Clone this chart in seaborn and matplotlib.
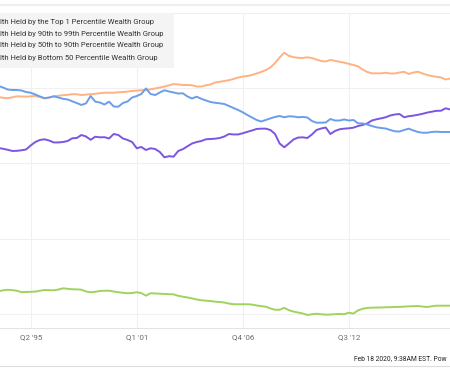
import numpy as np
import pandas as pd
import matplotlib
matplotlib.use("Agg")
import matplotlib.pyplot as plt
import seaborn as sns
from matplotlib.patches import Rectangle
from matplotlib.lines import Line2D

# ---------------- data ----------------
quarters = pd.period_range("1993Q3", "2018Q1", freq="Q")

# series names as far as they are visible in the (cropped) reference
series_names = [
    "lth Held by the Top 1 Percentile Wealth Group",
    "lth Held by 90th to 99th Percentile Wealth Group",
    "lth Held by 50th to 90th Percentile Wealth Group",
    "lth Held by Bottom 50 Percentile Wealth Group",
]

top1 = [22.06, 21.95, 21.82, 21.66, 21.68, 21.75, 21.86, 22.39, 22.85, 23.12,
        23.21, 23.05, 22.79, 22.79, 22.85, 22.98, 23.34, 23.38, 23.78, 23.58,
        23.14, 23.55, 23.47, 23.49, 23.32, 23.91, 23.78, 23.32, 23.12, 22.85,
        22.02, 22.19, 21.79, 22.02, 21.92, 21.53, 20.82, 20.97, 20.90, 21.66,
        21.90, 22.28, 22.65, 22.85, 22.98, 23.21, 23.25, 23.29, 23.38, 23.58,
        23.91, 23.85, 23.85, 24.01, 24.20, 24.38, 24.58, 24.62, 24.62, 24.44,
        23.91, 22.65, 22.15, 22.65, 23.18, 23.44, 23.47, 23.38, 23.85, 24.44,
        24.64, 24.77, 23.91, 24.31, 24.54, 24.62, 24.67, 24.75, 24.97, 25.11,
        25.31, 25.70, 25.86, 25.99, 26.13, 26.37, 26.50, 26.56, 26.13, 26.27,
        26.35, 26.46, 26.59, 26.75, 26.87, 26.98, 27.00, 27.32, 27.16]

p90_99 = [28.82, 28.71, 28.65, 28.78, 28.91, 28.89, 28.86, 28.91, 28.95, 28.82,
          28.65, 28.75, 28.91, 28.98, 29.06, 29.11, 29.19, 29.18, 29.08, 29.14,
          29.19, 29.24, 29.32, 29.39, 29.39, 29.39, 29.44, 29.48, 29.54, 29.62,
          29.67, 29.71, 29.77, 29.84, 29.95, 30.07, 30.21, 30.37, 30.54, 30.48,
          30.41, 30.41, 30.38, 30.21, 30.21, 30.37, 30.48, 30.74, 30.84, 30.94,
          31.05, 31.21, 31.41, 31.53, 31.60, 31.74, 31.94, 32.14, 32.40, 32.73,
          33.33, 34.06, 34.69, 34.28, 34.10, 34.02, 33.99, 34.08, 33.99, 33.79,
          33.59, 33.53, 33.73, 33.62, 33.49, 33.37, 33.22, 33.06, 32.89, 32.47,
          32.14, 31.96, 31.96, 31.96, 32.03, 31.94, 31.94, 32.07, 32.16, 31.87,
          32.07, 32.17, 31.94, 31.74, 31.60, 31.50, 31.41, 31.14, 31.27]

p50_90 = [30.28, 30.08, 29.81, 29.75, 29.75, 29.68, 29.48, 29.38, 29.15, 28.89,
          28.65, 28.75, 28.91, 28.75, 28.58, 28.49, 28.25, 28.02, 27.76, 27.98,
          28.95, 28.20, 28.09, 27.82, 28.20, 27.56, 27.53, 28.02, 28.22, 28.75,
          28.95, 29.22, 29.95, 29.22, 29.08, 29.42, 29.71, 29.55, 29.42, 29.28,
          29.31, 28.89, 28.62, 28.86, 28.58, 28.36, 28.16, 28.05, 27.98, 27.89,
          27.63, 27.36, 27.10, 26.79, 26.43, 26.10, 25.77, 25.57, 25.77, 25.99,
          26.17, 26.30, 26.13, 26.26, 26.23, 26.13, 26.17, 26.10, 25.64, 25.41,
          25.41, 25.44, 25.90, 25.70, 25.70, 25.84, 25.70, 25.77, 25.33, 25.31,
          25.17, 24.97, 24.80, 24.71, 24.64, 24.44, 24.27, 24.24, 24.44, 24.62,
          24.38, 24.18, 24.08, 24.08, 24.18, 24.22, 24.18, 24.18, 24.18]

bottom50 = [3.05, 3.18, 3.25, 3.20, 3.12, 2.93, 2.96, 2.98, 3.01, 3.12,
            3.22, 3.20, 3.18, 3.28, 3.44, 3.38, 3.32, 3.30, 3.26, 3.02,
            2.92, 2.98, 3.09, 3.12, 3.13, 3.02, 2.92, 2.85, 2.79, 2.82,
            2.92, 2.81, 2.47, 2.79, 2.76, 2.73, 2.69, 2.67, 2.64, 2.45,
            2.33, 2.23, 2.11, 1.96, 1.86, 1.80, 1.76, 1.67, 1.62, 1.56,
            1.42, 1.33, 1.33, 1.33, 1.33, 1.29, 1.17, 1.07, 1.01, 0.77,
            0.60, 0.60, 0.86, 0.54, 0.36, 0.23, 0.11, -0.09, 0.00, 0.07,
            0.00, -0.05, -0.03, 0.01, 0.04, 0.00, 0.21, 0.09, 0.52, 0.73,
            0.84, 0.88, 0.89, 0.90, 0.93, 0.94, 0.97, 0.98, 1.02, 1.05,
            1.07, 1.10, 1.02, 0.97, 1.06, 1.14, 1.14, 1.14, 1.14]

tick_pos = [1995.25, 2001.0, 2006.75, 2012.5]
tick_labels = ["Q2 '95", "Q1 '01", "Q4 '06", "Q3 '12"]
footer = "Feb 18 2020, 9:38AM EST. Pow"

colors = ["#7c55e2", "#ffb283", "#6b9ee8", "#a0d35c"]

t = quarters.year + (quarters.quarter - 1) / 4.0
frames = []
for name, vals in zip(series_names, [top1, p90_99, p50_90, bottom50]):
    frames.append(pd.DataFrame({"t": t, "value": vals, "series": name}))
df = pd.concat(frames, ignore_index=True)

# ---------------- drawing ----------------
sns.set_style("white")
plt.rcParams["font.family"] = ["Roboto", "DejaVu Sans"]
narrow = ["Liberation Sans Narrow", "Roboto"]

W, H = 450, 376
fig = plt.figure(figsize=(4.5, 3.76), dpi=100)
ax = fig.add_axes([0, (H - 328) / H, 1, (328 - 12.7) / H])

sns.lineplot(data=df, x="t", y="value", hue="series", hue_order=series_names,
             palette=colors, linewidth=1.4, legend=False, ax=ax, zorder=3)

ax.set_xlim(1993.585, 2017.988)
ax.set_ylim(-1.82, 40)
ax.set_yticks([0, 10, 20, 30, 40])
ax.set_yticklabels([])
ax.set_xticks(tick_pos)
ax.set_xticklabels(tick_labels, color="#6b6b6b", fontsize=5.8)
ax.tick_params(axis="both", length=0, pad=4.5)
ax.set_xlabel("")
ax.set_ylabel("")
ax.grid(True, color="#f0f0f0", linewidth=0.8)
for side in ["top", "left", "right"]:
    ax.spines[side].set_visible(False)
ax.spines["bottom"].set_color("#e4e4e4")
ax.spines["bottom"].set_linewidth(0.8)

renderer = fig.canvas.get_renderer()

# legend box (cropped at the left edge)
fig.add_artist(Rectangle((0, (H - 68) / H), 174 / W, (68 - 12.7) / H,
                         transform=fig.transFigure, facecolor="#f4f4f4",
                         edgecolor="none", zorder=5))
probe = fig.text(0, 0, series_names[0], fontsize=6.3, family=narrow)
leg_size = min(7.6, 6.3 * 154.0 / probe.get_window_extent(renderer).width)
probe.remove()
for name, yc in zip(series_names, [22, 33.7, 45.3, 57.7]):
    fig.text(0.5 / W, 1 - yc / H, name, fontsize=leg_size, family=narrow,
             color="#333333", ha="left", va="center", zorder=6)

# decorative lines and footer
fig.add_artist(Line2D([0, 1], [1 - 5 / H, 1 - 5 / H], transform=fig.transFigure,
                      color="#efefef", linewidth=1.5))
fig.add_artist(Line2D([0, 1], [1 - 366 / H, 1 - 366 / H], transform=fig.transFigure,
                      color="#dcdcdc", linewidth=0.8))
probe = fig.text(0, 0, footer, fontsize=6, family=narrow)
foot_size = min(7.2, 6 * 94.0 / probe.get_window_extent(renderer).width)
probe.remove()
fig.text(354 / W, 1 - 358.7 / H, footer, fontsize=foot_size, family=narrow,
         color="#222222", ha="left", va="center")

fig.savefig("out.png", dpi=100)
